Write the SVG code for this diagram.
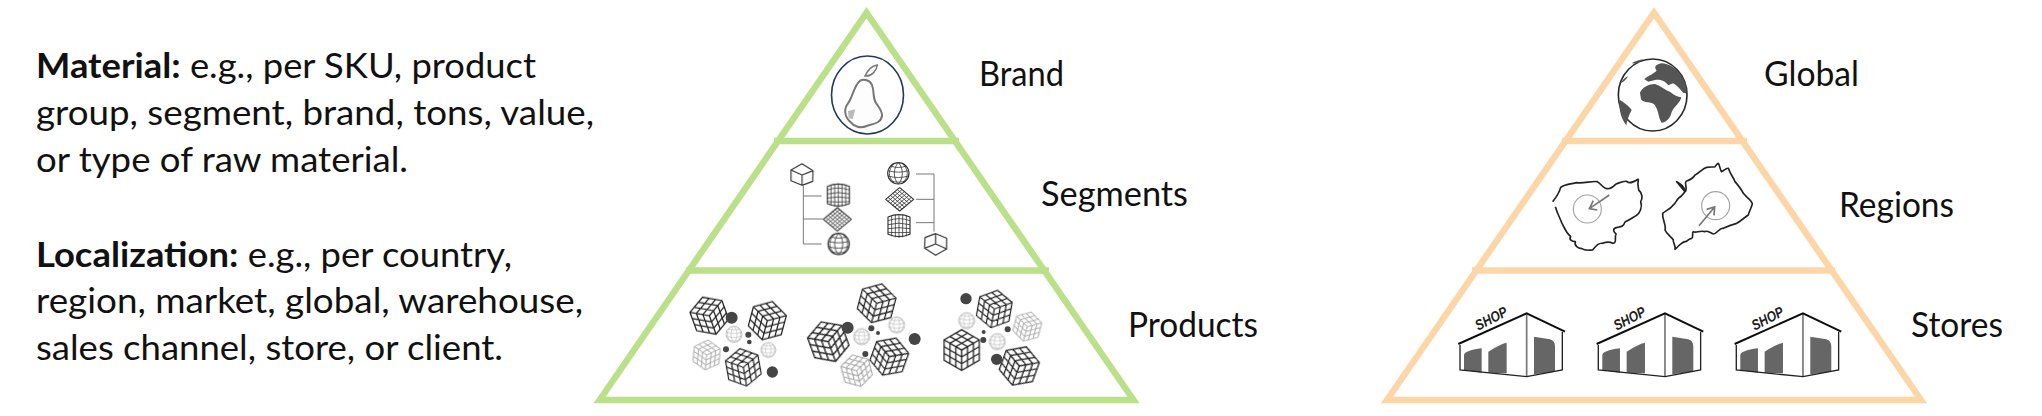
<svg xmlns="http://www.w3.org/2000/svg" xmlns:xlink="http://www.w3.org/1999/xlink" width="2042" height="416" viewBox="0 0 2042 416">
<style>
text{font-family:Lato,"Liberation Sans",sans-serif;fill:#111}
.desc{font-size:34px}
.desc tspan.b{font-weight:700}
.lab{font-size:34px}
.shoptxt{font-family:"Liberation Sans",sans-serif;font-size:44px;font-style:italic;font-weight:700;fill:#222}
.tri{fill:none;stroke-width:6.5;stroke-linejoin:miter;stroke-miterlimit:10}
.g{stroke:#BBE08A}
.o{stroke:#FDD6A8}
.wire{fill:#fff;stroke:#333;stroke-width:3.5;stroke-linejoin:round}
.wt{fill:none;stroke:#333;stroke-width:2.4}
.rub{fill:#fff;stroke:#222;stroke-width:3.2}
.tree{fill:none;stroke:#777;stroke-width:3}
.map{fill:#fff;stroke:#222;stroke-width:5;stroke-linejoin:round}
.ring{fill:none;stroke:#a5a5a5;stroke-width:3.500}
.arr{fill:none;stroke:#777;stroke-width:5}
.ball{fill:#444}
</style>
<defs>
<filter id="soft" x="-5%" y="-5%" width="110%" height="110%"><feGaussianBlur stdDeviation="1.4"/></filter>
<g id="rubik">
<path class="rub" d="M-43.3-25 0-50 43.3-25V25L0 50-43.3 25Z"/>
<path class="rub" d="M-43.3-25 0 0 43.3-25M0 0V50M-14.4-8.300 28.900-33.300M-28.900-16.700 14.400-41.700M14.400-8.300-28.900-33.300M28.900-16.700-14.400-41.700M-14.400-8.300V41.700M-28.900-16.700V33.300M0 16.700-43.300-8.300M0 33.300-43.300 8.300M14.400-8.300V41.700M28.900-16.700V33.300M0 16.700 43.300-8.300M0 33.300 43.300 8.300" fill="none"/>
</g>
<g id="wcube">
<path class="wire" d="M-33-12 0-31 33-10 32 22 0 34-33 20Z"/>
<path class="wire" fill="none" d="M-33-12 0 3 33-10M0 3V34"/>
</g>
<g id="wsphere">
<circle class="wire" r="32"/>
<path class="wt" d="M0-32C-16-16-16 16 0 32M0-32C16-16 16 16 0 32M-12-30C-32-10-32 10-12 30M12-30C32-10 32 10 12 30M-31-8C-10-2 10-2 31-8M-31 8C-10 14 10 14 31 8M-24-22C-8-16 8-16 24-22M-24 22C-8 28 8 28 24 22"/>
</g>
<g id="wdiamond">
<path class="wire" d="M-42 0 0-35 42 0 0 35Z"/>
<path class="wt" d="M-28-12 14 23M-14-23 28 12M-28 12 14-23M-14 23 28-12M-35-6 7 29M-21-18 21 18M-7-29 35 6M-35 6 7-29M-21 18 21-18M-7 29 35-6"/>
</g>
<g id="wcushion">
<path class="wire" d="M-33-26Q0-40 33-26V26Q0 40-33 26Z"/>
<path class="wt" d="M-22-31V32M-11-34V35M0-35V36M11-34V35M22-31V32M-33-15Q0-27 33-15M-33-3Q0-12 33-3M-33 9Q0 3 33 9M-33 20Q0 22 33 20"/>
</g>
<g id="shopbody">
<path d="M192 226Q192 212 245 205L245 278 192 270Z M265 215Q300 192 320 188V280L265 278Z M402 170 450 178Q465 182 465 200V275L402 283Z" fill="#666"/>
<path d="M380 100V290" stroke="#777" stroke-width="5" fill="none"/>
<path d="M180 195V270L380 290 487 270V155" stroke="#222" stroke-width="4" fill="none"/>
<path d="M175 192 380 100 495 155" stroke="#111" stroke-width="6" fill="none"/>
</g>
</defs>
<rect width="2042" height="416" fill="#fff"/>

<g id="description">
<text class="desc" x="36" y="78" textLength="500" lengthAdjust="spacingAndGlyphs"><tspan class="b">Material:</tspan> e.g., per SKU, product</text>
<text class="desc" x="36" y="125" textLength="558" lengthAdjust="spacingAndGlyphs">group, segment, brand, tons, value,</text>
<text class="desc" x="36" y="172" textLength="372" lengthAdjust="spacingAndGlyphs">or type of raw material.</text>
<text class="desc" x="36" y="267" textLength="476" lengthAdjust="spacingAndGlyphs"><tspan class="b">Localization:</tspan> e.g., per country,</text>
<text class="desc" x="36" y="313" textLength="547" lengthAdjust="spacingAndGlyphs">region, market, global, warehouse,</text>
<text class="desc" x="36" y="360" textLength="467" lengthAdjust="spacingAndGlyphs">sales channel, store, or client.</text>
</g>

<g id="pyramid-material">
<path class="tri g" d="M599.600 400 866.500 12.700 1133.500 400Z"/>
<path class="tri g" d="M774 141H959M686 270.500H1049"/>
</g>
<g id="pyramid-localization">
<path class="tri o" d="M1387 400 1654 12.700 1921 400Z"/>
<path class="tri o" d="M1562 141H1747M1472 270.500H1835"/>
</g>

<g id="connectors" transform="translate(760 60) scale(.33333)">
<path class="tree" d="M130 378V552H185M130 408H185M130 477H188"/>
<path class="tree" d="M468 342H522V515M468 418H522M468 488H522"/>
</g>

<g id="node-brand">
<ellipse cx="867.500" cy="95" rx="36" ry="39" fill="#fff" stroke="#1F3864" stroke-width="1.6"/>
<g transform="translate(820 50) scale(.33333)" filter="url(#soft)">
<path d="M120 92C132 86 150 90 156 105 163 122 158 140 166 155 174 170 188 182 186 198 182 222 155 222 140 228 122 236 102 230 90 215 72 198 72 175 84 160 98 142 100 110 120 92Z" fill="#fdfdfd" stroke="#777" stroke-width="6"/>
<path d="M135 78C142 60 158 46 172 45 170 62 155 80 135 78Z" fill="#fff" stroke="#777" stroke-width="4.500"/>
<path d="M84 183 106 178 98 208 86 204Z" fill="#bbb"/>
</g>
<text class="lab" x="979" y="86" textLength="85" lengthAdjust="spacingAndGlyphs">Brand</text>
</g>

<g id="node-segments">
<g transform="translate(760 60) scale(.33333)" filter="url(#soft)">
<use href="#wcube" transform="translate(126 342)"/>
<use href="#wcushion" transform="translate(235 405)"/>
<use href="#wdiamond" transform="translate(232 478)"/>
<use href="#wsphere" transform="translate(236 552)"/>
<use href="#wsphere" transform="translate(415 340)"/>
<use href="#wdiamond" transform="translate(419 418)"/>
<use href="#wcushion" transform="translate(417 497)"/>
<use href="#wcube" transform="translate(527 555) rotate(180)"/>
</g>
<text class="lab" x="1041" y="206" textLength="147" lengthAdjust="spacingAndGlyphs">Segments</text>
</g>

<g id="node-products">
<g transform="translate(680 270) scale(.33333)" filter="url(#soft)">
<g opacity=".4">
<use href="#rubik" transform="translate(80 255) rotate(5) scale(.9)"/>
<use href="#rubik" transform="translate(530 302) rotate(-15) scale(.98)"/>
<use href="#rubik" transform="translate(1042 170) rotate(15) scale(.9)"/>
</g>
<g opacity=".35">
<use href="#wsphere" transform="translate(162 193) scale(.75)"/>
<use href="#wsphere" transform="translate(265 240) scale(.7)"/>
<use href="#wsphere" transform="translate(545 200) scale(.75)"/>
<use href="#wsphere" transform="translate(650 165) scale(.75)"/>
<use href="#wsphere" transform="translate(860 152) scale(.75)"/>
<use href="#wsphere" transform="translate(952 215) scale(.75)"/>
</g>
<use href="#rubik" transform="translate(88 137) rotate(-20) scale(1.18)"/>
<use href="#rubik" transform="translate(262 152) rotate(15) scale(1.18)"/>
<use href="#rubik" transform="translate(190 292) rotate(-10) scale(1.14)"/>
<use href="#rubik" transform="translate(590 100) rotate(15) scale(1.2)"/>
<use href="#rubik" transform="translate(445 215) rotate(-20) scale(1.26)"/>
<use href="#rubik" transform="translate(628 260) rotate(20) scale(1.18)"/>
<use href="#rubik" transform="translate(943 117) rotate(10) scale(1.14)"/>
<use href="#rubik" transform="translate(845 240) scale(1.22)"/>
<use href="#rubik" transform="translate(1018 288) rotate(20) scale(1.22)"/>
<g class="ball">
<circle cx="155" cy="143" r="18"/><circle cx="205" cy="194" r="9"/><circle cx="208" cy="216" r="7"/><circle cx="138" cy="238" r="9"/><circle cx="277" cy="306" r="17"/>
<circle cx="503" cy="173" r="18"/><circle cx="574" cy="175" r="9"/><circle cx="594" cy="189" r="6"/><circle cx="556" cy="252" r="9"/><circle cx="704" cy="207" r="18"/>
<circle cx="858" cy="86" r="17"/><circle cx="911" cy="186" r="6"/><circle cx="910" cy="210" r="9"/><circle cx="983" cy="178" r="9"/><circle cx="950" cy="268" r="17"/>
</g>
</g>
<text class="lab" x="1128" y="337" textLength="130" lengthAdjust="spacingAndGlyphs">Products</text>
</g>

<g id="node-global">
<g transform="translate(1605 50) scale(.33333)" filter="url(#soft)">
<ellipse cx="143" cy="135" rx="103" ry="108" fill="#fff" stroke="#2c2c2c" stroke-width="5"/>
<path d="M118 88C125 78 140 76 155 62 148 52 148 46 168 40 195 40 222 60 236 88 244 105 246 118 243 130L234 128C226 118 214 104 204 100L190 106C180 92 165 88 150 90L130 95Z" fill="#555"/>
<path d="M105 128C112 112 132 102 150 102 168 108 180 120 196 126 208 136 218 140 229 142 226 158 208 170 200 186 196 204 184 218 170 218 160 205 162 185 150 166 138 152 118 162 108 148Z" fill="#555"/>
<path d="M44 150C55 156 72 168 80 180 72 195 66 212 64 226 50 208 40 180 44 150Z" fill="#555"/>
<path d="M80 40C90 34 102 30 116 28 102 38 92 42 80 40ZM46 100C52 90 60 82 70 78 62 90 56 96 46 100Z" fill="#555"/>
</g>
<text class="lab" x="1764" y="86" textLength="95" lengthAdjust="spacingAndGlyphs">Global</text>
</g>

<g id="node-regions">
<g transform="translate(1510 50) scale(.33333)" filter="url(#soft)">
<path class="map" d="M128 455C140 440 148 428 152 412 165 402 185 402 200 398 220 402 245 392 262 395 272 400 282 418 292 416 303 418 312 408 318 402 330 398 340 392 350 394 358 402 368 398 385 388 382 400 384 412 386 420 398 430 398 445 392 455 398 470 390 490 378 497 365 505 358 510 345 516 340 530 335 530 322 532 306 535 310 545 318 552 312 565 323 578 308 580 298 574 290 575 278 580 265 578 258 588 248 600 240 600 228 604 215 596 205 595 192 588 196 575 185 575 176 568 182 560 165 545 162 530 155 518 150 505 142 490 136 470 128 455Z"/>
<path class="map" d="M500 395C512 402 522 408 525 425 535 418 520 395 530 393 545 388 552 380 555 375 570 368 578 355 590 352 600 350 610 352 615 350 620 345 622 340 625 340 630 345 630 362 635 365 642 362 650 352 655 355 662 375 672 385 675 395 688 410 695 420 700 430 712 445 725 450 727 462 722 478 716 488 715 495 700 505 690 515 680 520 662 524 650 530 640 535 628 532 622 552 610 552 598 548 592 540 585 545 570 540 558 550 550 545 544 552 552 562 545 565 534 566 532 576 525 575 512 578 505 590 495 598 498 585 488 578 490 570 482 558 470 552 465 540 470 525 456 510 458 490 468 482 480 478 490 465 498 458 500 450 505 445 515 440 520 432 525 425Z"/>
<circle class="ring" cx="232" cy="477" r="42"/>
<circle class="ring" cx="617" cy="467" r="42"/>
<path class="arr" d="M298 435 238 476M262 480 238 476 250 452"/>
<path class="arr" d="M567 527 614 471M590 478 614 471 612 496"/>
</g>
<text class="lab" x="1839" y="217" textLength="115" lengthAdjust="spacingAndGlyphs">Regions</text>
</g>

<g id="node-stores">
<g id="store-1" transform="translate(1400 280) scale(.33333)">
<use href="#shopbody" filter="url(#soft)"/>
<text class="shoptxt" transform="translate(235 152) rotate(-27)" textLength="102" lengthAdjust="spacingAndGlyphs">SHOP</text>
</g>
<g id="store-2" transform="translate(1538.300 280) scale(.33333)">
<use href="#shopbody" filter="url(#soft)"/>
<text class="shoptxt" transform="translate(235 152) rotate(-27)" textLength="102" lengthAdjust="spacingAndGlyphs">SHOP</text>
</g>
<g id="store-3" transform="translate(1676.300 280) scale(.33333)">
<use href="#shopbody" filter="url(#soft)"/>
<text class="shoptxt" transform="translate(235 152) rotate(-27)" textLength="102" lengthAdjust="spacingAndGlyphs">SHOP</text>
</g>
<text class="lab" x="1911" y="337" textLength="92" lengthAdjust="spacingAndGlyphs">Stores</text>
</g>
</svg>
